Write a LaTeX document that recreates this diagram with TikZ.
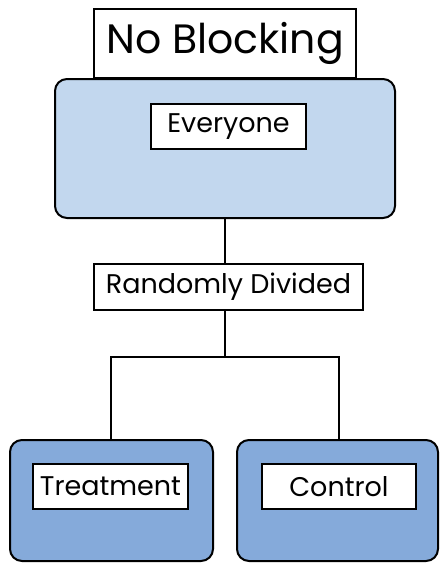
\documentclass[tikz,border=0pt]{standalone}
\usepackage{fontspec}
\setmainfont{Poppins}
\definecolor{lightblue}{HTML}{C2D7EE}
\definecolor{midblue}{HTML}{85AADA}
\begin{document}
\begin{tikzpicture}[x=1pt,y=-1pt,
  groupbox/.style={draw=black, line width=2pt, rounded corners=12pt, inner sep=0pt},
  labbox/.style={draw=black, fill=white, line width=1.5pt, inner sep=0pt, font=\fontsize{27}{32}\selectfont},
  conn/.style={draw=black, line width=2pt}]
\useasboundingbox (0,0) rectangle (440,563);
% title
\node[draw=black, fill=white, line width=1.5pt, inner sep=0pt, minimum width=262pt, minimum height=69pt,
  font=\fontsize{41}{48}\selectfont] (title) at (225,43.5) {No Blocking};
% everyone group
\node[groupbox, fill=lightblue, minimum width=340pt, minimum height=139pt] (all) at (225,148.5) {};
\node[labbox, minimum width=155pt, minimum height=45pt] (every) at (228.5,126.5) {Everyone};
% randomly divided
\node[labbox, minimum width=269pt, minimum height=46pt] (rand) at (228.5,287) {Randomly Divided};
% lower groups
\node[groupbox, fill=midblue, minimum width=203pt, minimum height=121pt] (treat) at (111.5,500.5) {};
\node[labbox, minimum width=155pt, minimum height=45pt] (tlab) at (110.5,486.5) {Treatment};
\node[groupbox, fill=midblue, minimum width=201pt, minimum height=121pt] (ctrl) at (337.5,500.5) {};
\node[labbox, minimum width=154pt, minimum height=45pt] (clab) at (339,486.5) {Control};
% connectors
\coordinate (split) at (225,357);
\draw[conn] (all.south -| split) -- (rand.north -| split);
\draw[conn] (rand.south -| split) -- (split);
\draw[conn] (split) -| (111,440) coordinate (tt);
\draw[conn] (split) -| (339,440) coordinate (ct);
\end{tikzpicture}
\end{document}
